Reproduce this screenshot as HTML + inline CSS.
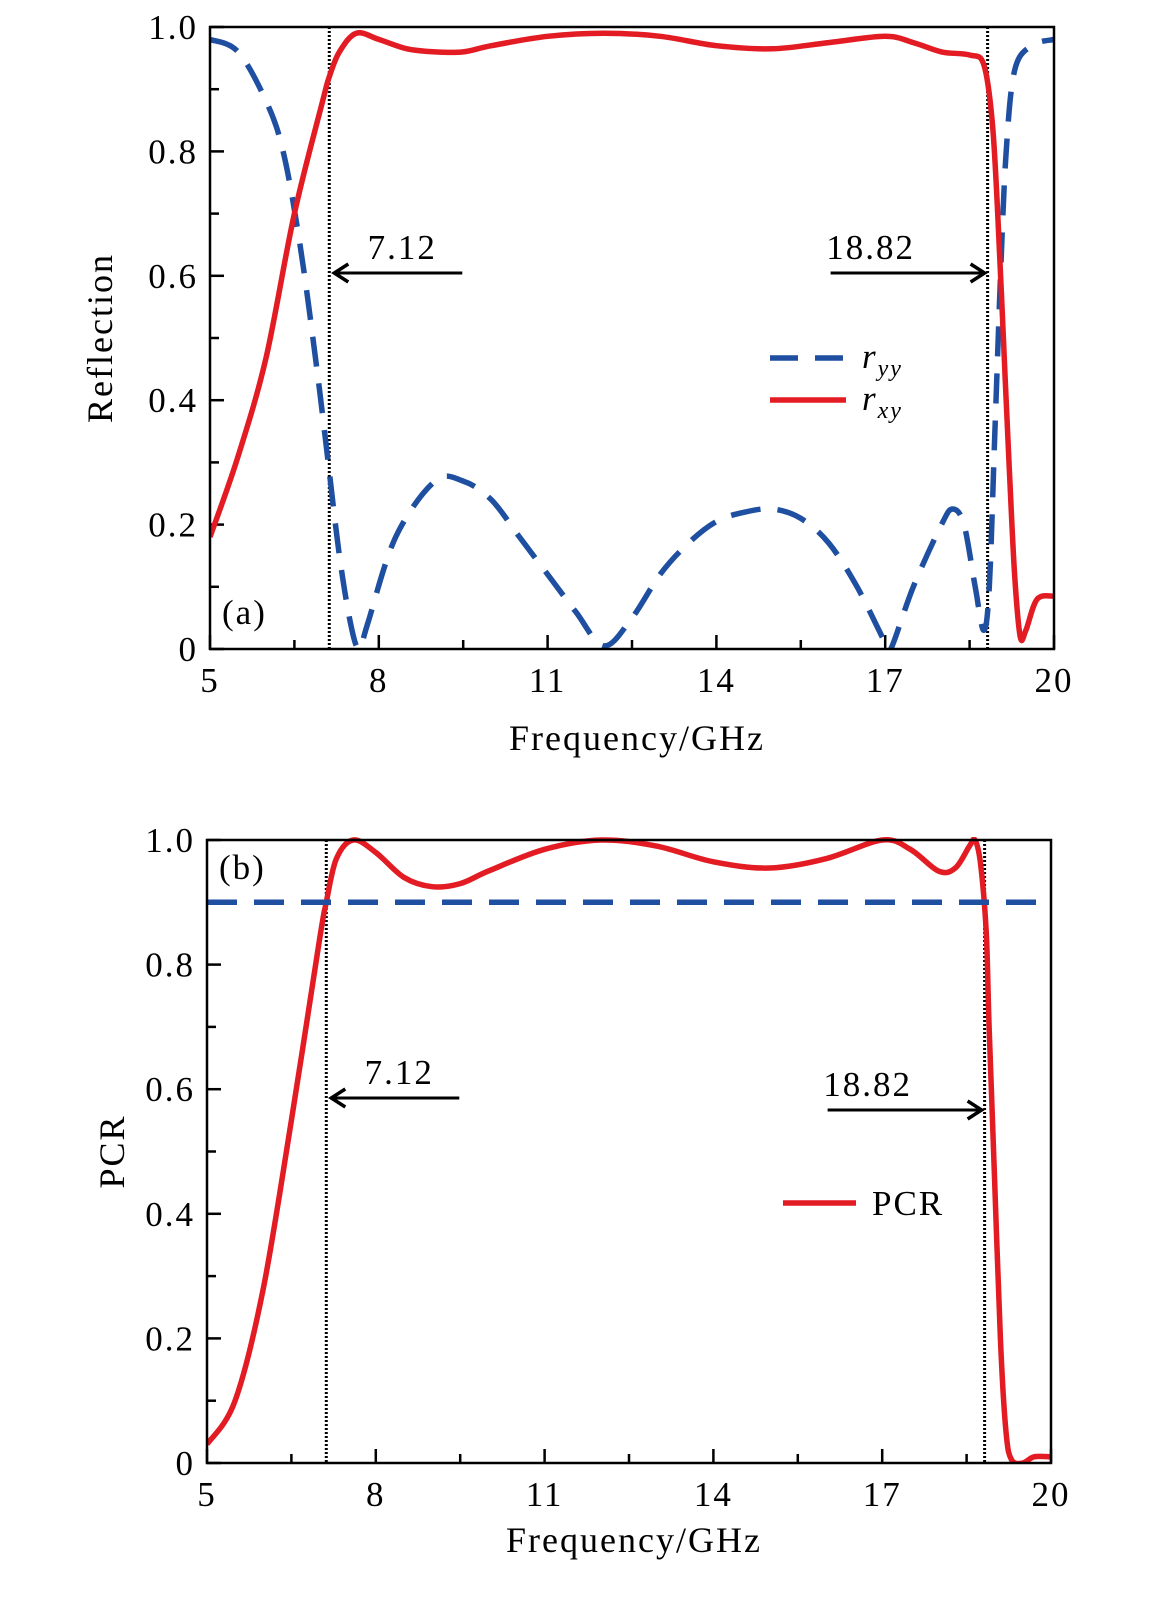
<!DOCTYPE html>
<html><head><meta charset="utf-8"><style>
html,body{margin:0;padding:0;background:#fff;}
svg{display:block;font-family:"Liberation Serif",serif;}
text{letter-spacing:2px;}
</style></head><body>
<svg id="c" width="1174" height="1599" viewBox="0 0 1174 1599"></svg>
<script>
const freqA_rxy=[5,5.5,6,6.5,7,7.12,7.3,7.6,8,8.5,9,9.5,10,11,12,13,14,15,16,17,17.5,18,18.5,18.75,18.9,19.0,19.1,19.2,19.3,19.4,19.5,19.7,20];
const valA_rxy=[0.18,0.31,0.47,0.7,0.88,0.92,0.96,0.99,0.98,0.965,0.96,0.96,0.97,0.985,0.99,0.985,0.97,0.965,0.975,0.985,0.975,0.96,0.955,0.94,0.85,0.7,0.5,0.3,0.12,0.02,0.03,0.08,0.085];
const freqA_ryy=[5,5.5,6,6.3,6.6,6.9,7.1,7.3,7.5,7.65,7.8,8.3,9,9.5,10,10.5,11,11.5,12,12.5,13,13.5,14,14.5,15,15.5,16,16.5,17,17.1,17.5,18,18.2,18.4,18.6,18.75,18.85,18.95,19.05,19.15,19.3,19.6,20];
const valA_ryy=[0.98,0.96,0.88,0.8,0.65,0.45,0.3,0.15,0.04,0,0.04,0.18,0.27,0.27,0.24,0.18,0.12,0.06,0.005,0.05,0.12,0.17,0.205,0.22,0.225,0.21,0.17,0.1,0.01,0,0.1,0.2,0.225,0.2,0.1,0.03,0.1,0.35,0.6,0.8,0.93,0.97,0.98];
const freqB_pcr=[5,5.5,6,6.5,7,7.12,7.3,7.6,8,8.5,9,9.5,10,11,12,13,14,15,16,17,17.5,18,18.3,18.55,18.65,18.75,18.85,18.9,19.0,19.1,19.2,19.3,19.5,19.7,20];
const valB_pcr=[0.03,0.1,0.28,0.55,0.84,0.9,0.97,1.0,0.98,0.94,0.925,0.93,0.95,0.985,1.0,0.99,0.965,0.955,0.97,1.0,0.985,0.95,0.955,0.99,1.0,0.96,0.85,0.7,0.45,0.2,0.05,0.005,0,0.01,0.01];
const xTicks=[5,8,11,14,17,20];
const yTicks=[0,0.2,0.4,0.6,0.8,1.0];
const yTickLabels=["0","0.2","0.4","0.6","0.8","1.0"];
const cutoffs=[7.12,18.82];
const threshold=[0.9];

const NS="http://www.w3.org/2000/svg";
const svg=document.getElementById('c');
const FS=35;
function mk(tag,attrs,parent){const e=document.createElementNS(NS,tag);for(const k in attrs)e.setAttribute(k,attrs[k]);(parent||svg).appendChild(e);return e;}
function smooth(pts){let d="M"+pts[0][0].toFixed(1)+","+pts[0][1].toFixed(1);
 for(let i=0;i<pts.length-1;i++){const p0=pts[Math.max(0,i-1)],p1=pts[i],p2=pts[i+1],p3=pts[Math.min(pts.length-1,i+2)];
 const c1=[p1[0]+(p2[0]-p0[0])/6,p1[1]+(p2[1]-p0[1])/6],c2=[p2[0]-(p3[0]-p1[0])/6,p2[1]-(p3[1]-p1[1])/6];
 d+=" C"+c1[0].toFixed(1)+","+c1[1].toFixed(1)+" "+c2[0].toFixed(1)+","+c2[1].toFixed(1)+" "+p2[0].toFixed(1)+","+p2[1].toFixed(1);}
 return d;}

function panel(cfg){
 const X=f=>cfg.x0+(f-5)/15*(cfg.x1-cfg.x0);
 const Y=v=>cfg.y0-v*(cfg.y0-cfg.y1);
 const g=mk('g',{});
 
 
 for(let v=0;v<=1.0001;v+=0.1){const big=Math.round(v*10)%2===0;
  const t=mk('line',{x1:cfg.x0,x2:cfg.x0+(big?14:9),y1:Y(v),y2:Y(v),stroke:'#000','stroke-width':2.5},g);
  }
 for(let f=5;f<=20.001;f+=1.5){const big=Math.round((f-5)/1.5)%2===0;
  const t=mk('line',{x1:X(f),x2:X(f),y1:cfg.y0,y2:cfg.y0-(big?14:9),stroke:'#000','stroke-width':2.5},g);
  }
 yTicks.forEach((v,i)=>{const t=mk('text',{x:cfg.x0-12,y:Y(v)+12,'text-anchor':'end','font-size':FS},g);t.textContent=yTickLabels[i];
  });
 xTicks.forEach(f=>{const t=mk('text',{x:X(f),y:cfg.y0+43,'text-anchor':'middle','font-size':FS},g);t.textContent=String(f);
  });
 const xt=mk('text',{x:(cfg.x0+cfg.x1)/2+5,y:cfg.xTitleY,'text-anchor':'middle','font-size':36,'letter-spacing':3.5},g);xt.textContent='Frequency/GHz';
 
 const yt=mk('text',{x:0,y:0,'text-anchor':'middle','font-size':36,'letter-spacing':3,transform:`translate(${cfg.yTitleX},${(cfg.y0+cfg.y1)/2}) rotate(-90)`},g);yt.textContent=cfg.yTitle;
 
 cutoffs.forEach(f=>{const l=mk('line',{x1:X(f),x2:X(f),y1:cfg.y1,y2:cfg.y0,stroke:'#000','stroke-width':3,'stroke-dasharray':'2,2'},g);
  });
 const clip=mk('clipPath',{id:cfg.name+'-clip'},g);mk('rect',{x:cfg.x0,y:cfg.y1-3,width:cfg.x1-cfg.x0,height:cfg.y0-cfg.y1+3},clip);
 cfg.series.forEach(s=>{const pts=s.f.map((f,i)=>[X(f),Y(s.v[i])]);
  const p=mk('path',{d:smooth(pts),fill:'none',stroke:s.color,'stroke-width':5.5,'stroke-dasharray':s.dash||'none','clip-path':`url(#${cfg.name}-clip)`},g);
  });
 if(cfg.hline){const l=mk('line',{x1:cfg.x0,x2:cfg.x1,y1:Y(threshold[0]),y2:Y(threshold[0]),stroke:'#1f4fa0','stroke-width':5.5,'stroke-dasharray':'30,17'},g);
  }
 const fr=mk('rect',{x:cfg.x0,y:cfg.y1,width:cfg.x1-cfg.x0,height:cfg.y0-cfg.y1,fill:'none',stroke:'#000','stroke-width':2.5},g);
 
 const a1=X(cutoffs[0]),a2=X(cutoffs[1]);
 [[a1+133,a1+5,cfg.ann1Y,'7.12',a1+73,cfg.ann1Y-14],[a2-157,a2-3,cfg.ann2Y,'18.82',a2-117,cfg.ann2Y-14]].forEach(a=>{
  const l=mk('line',{x1:a[0],x2:a[1],y1:a[2],y2:a[2],stroke:'#000','stroke-width':3},g);
  const dir=a[1]>a[0]?-1:1;
  mk('path',{d:`M${a[1]+dir*14},${a[2]-9} L${a[1]},${a[2]} L${a[1]+dir*14},${a[2]+9}`,fill:'none',stroke:'#000','stroke-width':3.5},g);
  const t=mk('text',{x:a[4],y:a[5],'text-anchor':'middle','font-size':FS},g);t.textContent=a[3];
  });
 const pl=mk('text',{x:cfg.x0+12,y:cfg.panelLabelY,'font-size':FS},g);pl.textContent=cfg.panelLabel;
 
 return {X,Y,g};
}
panel({name:'panel-a',x0:210,x1:1054,y0:649,y1:27,xTitleY:750,yTitleX:112,yTitle:'Reflection',ann1Y:273,ann2Y:273,panelLabel:'(a)',panelLabelY:624,
 series:[{f:freqA_ryy,v:valA_ryy,color:'#1f4fa0',dash:'30,17',name:'ryy-line'},{f:freqA_rxy,v:valA_rxy,color:'#e31b23',name:'rxy-line'}]});
panel({name:'panel-b',x0:207,x1:1051,y0:1463,y1:840,xTitleY:1552,yTitleX:124,yTitle:'PCR',ann1Y:1098,ann2Y:1110,panelLabel:'(b)',panelLabelY:879,hline:true,
 series:[{f:freqB_pcr,v:valB_pcr,color:'#e31b23',name:'pcr-line'}]});
const lg=mk('g',{});


mk('line',{x1:770,x2:846,y1:358,y2:358,stroke:'#1f4fa0','stroke-width':5.5,'stroke-dasharray':'28,17'},lg);
mk('line',{x1:770,x2:846,y1:400,y2:400,stroke:'#e31b23','stroke-width':5.5},lg);
const t1=mk('text',{x:862,y:368,'font-size':FS,'font-style':'italic'},lg);t1.innerHTML='r<tspan font-size="24" dy="8">yy</tspan>';

const t2=mk('text',{x:862,y:410,'font-size':FS,'font-style':'italic'},lg);t2.innerHTML='r<tspan font-size="24" dy="8">xy</tspan>';

const lb=mk('g',{});


mk('line',{x1:783,x2:856,y1:1203,y2:1203,stroke:'#e31b23','stroke-width':5.5},lb);
const t3=mk('text',{x:872,y:1215,'font-size':FS},lb);t3.textContent='PCR';

</script>
</body></html>
